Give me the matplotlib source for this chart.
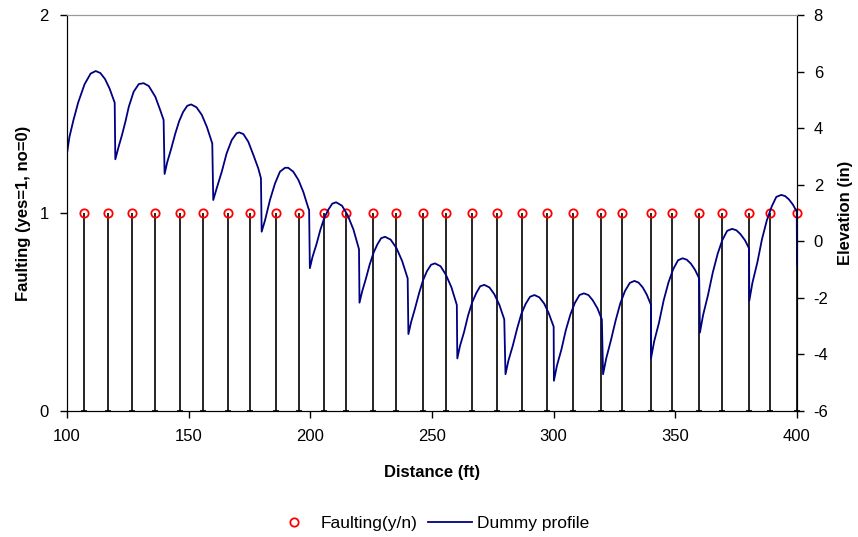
import matplotlib
matplotlib.use('Agg')
import matplotlib.pyplot as plt
import numpy as np

plt.rcParams['font.family'] = ['Liberation Sans', 'DejaVu Sans']
plt.rcParams['axes.unicode_minus'] = False

# faulting locations (ft) and flag (yes=1)
fault_dist = [107.0, 117.0, 126.6, 136.0, 146.4, 155.8, 166.2, 175.3, 186.0, 195.2,
              205.6, 214.8, 225.9, 235.2, 246.4, 255.6, 266.6, 276.6, 287.0, 297.4,
              307.9, 319.6, 328.2, 340.0, 348.6, 359.7, 369.1, 380.3, 388.7, 400.0]
fault_flag = [1, 1, 1, 1, 1, 1, 1, 1, 1, 1,
              1, 1, 1, 1, 1, 1, 1, 1, 1, 1,
              1, 1, 1, 1, 1, 1, 1, 1, 1, 1]

# dummy elevation profile, one line per slab
profile_dist = [
    100.0, 100.0, 101.0, 102.6, 104.6, 107.2, 109.7, 111.8, 113.7, 115.6, 117.5, 119.6,
    119.85, 121.2, 122.6, 124.0, 125.4, 127.4, 129.5, 131.5, 133.6, 136.3, 138.3, 139.7,
    140.1, 141.2, 142.8, 144.5, 146.1, 147.7, 149.4, 151.0, 153.2, 155.4, 157.5, 159.7,
    160.1, 161.5, 163.6, 165.6, 167.7, 169.7, 170.8, 172.5, 174.5, 176.6, 178.6, 179.7,
    180.0, 181.4, 183.4, 185.5, 187.5, 189.6, 190.9, 193.0, 195.1, 197.1, 199.2, 199.5,
    199.8, 200.9, 202.5, 204.1, 205.7, 207.4, 209.0, 210.6, 213.0, 215.3, 217.7, 220.0,
    220.2, 221.3, 222.8, 224.4, 226.0, 227.6, 229.1, 230.7, 233.0, 235.4, 237.7, 240.0,
    240.3, 241.4, 243.0, 244.7, 246.3, 247.9, 249.6, 251.2, 253.5, 255.7, 258.0, 260.2,
    260.4, 261.5, 263.2, 264.8, 266.5, 268.2, 269.8, 271.5, 273.6, 275.6, 277.7, 279.7,
    280.2, 281.4, 283.2, 285.0, 286.7, 288.5, 290.3, 292.1, 294.1, 296.1, 298.0, 300.0,
    300.1, 301.3, 303.2, 305.0, 306.9, 308.7, 310.6, 312.4, 314.3, 316.1, 318.0, 319.8,
    320.3, 321.6, 323.5, 325.5, 327.4, 329.3, 331.3, 333.2, 334.9, 336.6, 338.3, 340.0,
    340.0, 341.3, 343.3, 345.2, 347.2, 349.1, 351.1, 353.0, 354.7, 356.4, 358.1, 359.8,
    360.1, 361.4, 363.4, 365.4, 367.4, 369.3, 371.3, 373.3, 375.1, 376.8, 378.6, 380.3,
    380.4, 381.7, 383.7, 385.6, 387.6, 389.6, 391.5, 393.5, 395.1, 396.7, 398.3, 399.9,
    400.0]
profile_elev = [
    5.11, 3.11, 3.69, 4.27, 4.91, 5.55, 5.93, 6.02, 5.95, 5.74, 5.40, 4.90,
    2.90, 3.34, 3.76, 4.23, 4.76, 5.29, 5.56, 5.59, 5.49, 5.11, 4.64, 4.29,
    2.38, 2.80, 3.27, 3.81, 4.25, 4.57, 4.79, 4.84, 4.74, 4.47, 4.04, 3.46,
    1.46, 1.87, 2.46, 3.11, 3.58, 3.82, 3.85, 3.79, 3.52, 3.05, 2.58, 2.23,
    0.34, 0.75, 1.46, 2.05, 2.46, 2.60, 2.60, 2.46, 2.17, 1.75, 1.17, 1.11,
    -0.95, -0.55, -0.11, 0.40, 0.82, 1.12, 1.33, 1.38, 1.26, 0.93, 0.42, -0.28,
    -2.17, -1.77, -1.33, -0.82, -0.40, -0.10, 0.11, 0.16, 0.06, -0.24, -0.69, -1.31,
    -3.28, -2.86, -2.38, -1.83, -1.38, -1.06, -0.83, -0.78, -0.88, -1.18, -1.63, -2.25,
    -4.14, -3.70, -3.20, -2.63, -2.16, -1.83, -1.59, -1.54, -1.63, -1.87, -2.25, -2.76,
    -4.70, -4.22, -3.69, -3.08, -2.57, -2.21, -1.96, -1.90, -1.98, -2.20, -2.55, -3.02,
    -4.93, -4.41, -3.82, -3.14, -2.58, -2.18, -1.90, -1.84, -1.90, -2.09, -2.37, -2.76,
    -4.70, -4.14, -3.51, -2.79, -2.19, -1.76, -1.47, -1.40, -1.46, -1.63, -1.89, -2.25,
    -4.14, -3.54, -2.87, -2.09, -1.45, -0.99, -0.67, -0.60, -0.65, -0.79, -1.01, -1.31,
    -3.23, -2.61, -1.91, -1.10, -0.44, 0.04, 0.37, 0.44, 0.39, 0.25, 0.04, -0.25,
    -2.10, -1.46, -0.75, 0.07, 0.74, 1.23, 1.57, 1.64, 1.60, 1.48, 1.30, 1.05,
    -0.84]

left_ticks = [0, 1, 2]
right_ticks = [-6, -4, -2, 0, 2, 4, 6, 8]
x_ticks = [100, 150, 200, 250, 300, 350, 400]

fs = 12

fig = plt.figure(figsize=(8.58, 5.37), dpi=100)
ax = fig.add_axes([0.0781, 0.2346, 0.8508, 0.7374])

# drop lines from each faulting point down to zero
ax.vlines(fault_dist, 0, fault_flag, colors='black', linewidth=1.2, zorder=2)
ax.plot(fault_dist, np.zeros(len(fault_dist)), linestyle='none', marker='_',
        color='black', markersize=5, markeredgewidth=1.2, clip_on=False, zorder=2)
pts, = ax.plot(fault_dist, fault_flag, linestyle='none', marker='o', markersize=6,
               markerfacecolor='none', markeredgecolor='red', markeredgewidth=1.3,
               clip_on=False, zorder=3, label='Faulting(y/n)')

ax.set_xlim(100, 400)
ax.set_ylim(0, 2)
ax.set_xticks(x_ticks)
ax.set_yticks(left_ticks)
ax.tick_params(axis='x', labelsize=fs, length=5, width=1, color='black', pad=8)
ax.tick_params(axis='y', labelsize=fs, length=5, width=1, color='black', pad=8)
ax.set_xlabel('Distance (ft)', fontsize=fs, fontweight='bold', labelpad=15)
ax.set_ylabel('Faulting (yes=1, no=0)', fontsize=fs, fontweight='bold', labelpad=6)

ax2 = ax.twinx()
prof, = ax2.plot(profile_dist, profile_elev, color='#000080', linewidth=1.3,
                 label='Dummy profile')
ax2.set_ylim(-6, 8)
ax2.set_yticks(right_ticks)
ax2.tick_params(axis='y', labelsize=fs, length=5, width=1, color='black', pad=7)
ax2.set_ylabel('Elevation (in)', fontsize=fs, fontweight='bold', labelpad=7)

for a in (ax, ax2):
    a.spines['top'].set_color('#999999')
    a.spines['left'].set_color('black')
    a.spines['bottom'].set_color('black')
    a.spines['right'].set_color('black')

fig.legend(handles=[pts, prof], loc='center', bbox_to_anchor=(0.502, 0.026),
           ncol=2, frameon=False, fontsize=12.5, handlelength=2.5,
           handletextpad=0.3, columnspacing=0.6)

fig.savefig('out.png', dpi=100)
